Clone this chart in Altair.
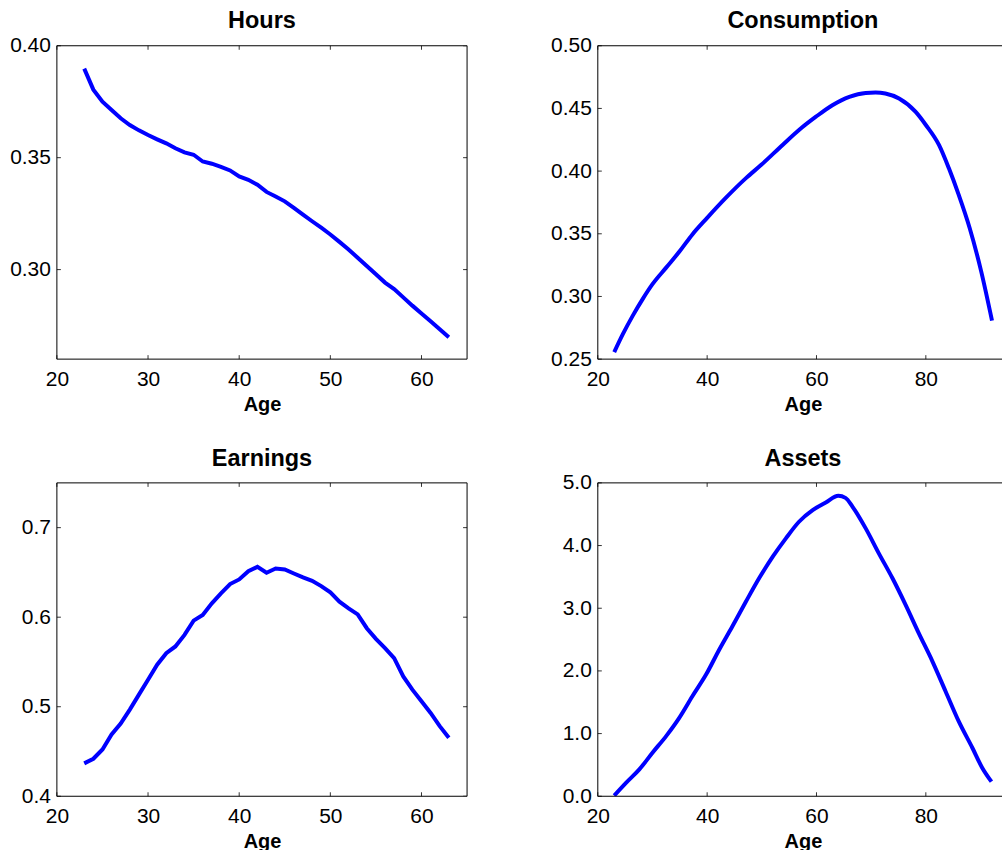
import altair as alt
import pandas as pd

FONT = "Liberation Sans"

# ---------------- data ----------------
hours_age = list(range(23, 64))
hours_val = [0.3898, 0.3804, 0.3750, 0.3713, 0.3676, 0.3646, 0.3622, 0.3601, 0.3582, 0.3564,
             0.3542, 0.3524, 0.3513, 0.3483, 0.3473, 0.3459, 0.3443, 0.3416, 0.3401, 0.3379,
             0.3347, 0.3327, 0.3305, 0.3276, 0.3246, 0.3216, 0.3187, 0.3157, 0.3124, 0.3090,
             0.3053, 0.3016, 0.2979, 0.2942, 0.2913, 0.2876, 0.2839, 0.2804, 0.2769, 0.2733,
             0.2698]

earn_age = list(range(23, 64))
earn_val = [0.4367, 0.4419, 0.4523, 0.4690, 0.4812, 0.4968, 0.5135, 0.5302, 0.5469, 0.5598,
            0.5673, 0.5802, 0.5962, 0.6025, 0.6155, 0.6266, 0.6370, 0.6422, 0.6514, 0.6562,
            0.6496, 0.6544, 0.6533, 0.6488, 0.6444, 0.6407, 0.6347, 0.6277, 0.6173, 0.6099,
            0.6032, 0.5877, 0.5758, 0.5654, 0.5543, 0.5339, 0.5191, 0.5061, 0.4931, 0.4783,
            0.4653]

cons_age = [23.0, 24.6, 26.4, 28.2, 30.0, 32.5, 35.0, 37.3, 40.0, 43.4, 47.1, 49.9, 53.8,
            56.8, 59.9, 62.9, 66.0, 69.0, 70.8, 72.6, 75.1, 78.1, 80.0, 82.4, 84.2, 86.0,
            88.0, 90.1, 92.1]
cons_val = [0.2556, 0.2701, 0.2847, 0.2979, 0.3098, 0.3230, 0.3362, 0.3495, 0.3627, 0.3786,
            0.3944, 0.4050, 0.4209, 0.4328, 0.4434, 0.4526, 0.4593, 0.4624, 0.4627, 0.4619,
            0.4579, 0.4474, 0.4368, 0.4209, 0.4024, 0.3812, 0.3548, 0.3204, 0.2807]

asset_age = [23.0, 25.2, 27.6, 30.0, 32.5, 34.9, 37.3, 39.8, 42.2, 44.6, 47.1, 49.5, 52.0,
             54.4, 56.8, 59.3, 61.7, 64.0, 65.3, 66.6, 69.0, 71.4, 73.9, 76.3, 78.7, 81.2,
             83.6, 86.0, 88.5, 90.3, 92.0]
asset_val = [0.01, 0.217, 0.429, 0.695, 0.960, 1.251, 1.596, 1.941, 2.338, 2.709, 3.107,
             3.478, 3.823, 4.115, 4.380, 4.565, 4.687, 4.793, 4.761, 4.618, 4.274, 3.876,
             3.478, 3.054, 2.603, 2.153, 1.676, 1.198, 0.774, 0.456, 0.233]

xticks_work = [20, 30, 40, 50, 60]
xticks_life = [20, 40, 60, 80]
yticks_hours = [0.30, 0.35, 0.40]
yticks_cons = [0.25, 0.30, 0.35, 0.40, 0.45, 0.50]
yticks_earn = [0.4, 0.5, 0.6, 0.7]
yticks_asset = [0.0, 1.0, 2.0, 3.0, 4.0, 5.0]

W_LEFT = 411
W_RIGHT = 405
H = 314
TICK = 4


def panel(ages, vals, title, xdom, xticks, ydom, yticks, yfmt, W, center, right_border, interp):
    df = pd.DataFrame({"age": ages, "value": vals})
    xs = alt.Scale(domain=xdom, nice=False, zero=False)
    ys = alt.Scale(domain=ydom, nice=False, zero=False)
    one = pd.DataFrame({"k": [0]})

    line = alt.Chart(df).mark_line(color="#0000ff", strokeWidth=4, clip=True,
                                   interpolate=interp).encode(
        x=alt.X("age:Q", scale=xs,
                axis=alt.Axis(values=xticks, format="d", title="Age", labelFlush=False,
                              labelPadding=9.5, titleY=51, titleBaseline="alphabetic",
                              titleX=center, titleAlign="center")),
        y=alt.Y("value:Q", scale=ys,
                axis=alt.Axis(values=yticks, format=yfmt, title=None, labelFlush=False,
                              labelPadding=6.5, minExtent=50, maxExtent=50)),
    )
    xt = pd.DataFrame({"age": xticks})
    yt = pd.DataFrame({"value": yticks})
    rule = dict(color="#333333", strokeWidth=1)
    bot_t = alt.Chart(xt).mark_rule(**rule).encode(
        x=alt.X("age:Q", scale=xs), y=alt.value(H), y2=alt.value(H - TICK))
    top_t = alt.Chart(xt).mark_rule(**rule).encode(
        x=alt.X("age:Q", scale=xs), y=alt.value(0), y2=alt.value(TICK))
    left_t = alt.Chart(yt).mark_rule(**rule).encode(
        y=alt.Y("value:Q", scale=ys), x=alt.value(0), x2=alt.value(TICK))
    frame = dict(color="black", strokeWidth=1)
    f_bot = alt.Chart(one).mark_rule(**frame).encode(
        x=alt.value(0), x2=alt.value(W), y=alt.value(H))
    f_top = alt.Chart(one).mark_rule(**frame).encode(
        x=alt.value(0), x2=alt.value(W), y=alt.value(0))
    f_left = alt.Chart(one).mark_rule(**frame).encode(
        x=alt.value(0), y=alt.value(0), y2=alt.value(H))
    ttl = alt.Chart(one).mark_text(text=title, font=FONT, fontSize=23.5, fontWeight="bold",
                                   baseline="alphabetic", align="center", color="black").encode(
        x=alt.value(center), y=alt.value(-17.3))
    layers = [line, bot_t, top_t, left_t, f_bot, f_top, f_left, ttl]
    if right_border:
        right_t = alt.Chart(yt).mark_rule(**rule).encode(
            y=alt.Y("value:Q", scale=ys), x=alt.value(W), x2=alt.value(W - TICK))
        f_right = alt.Chart(one).mark_rule(**frame).encode(
            x=alt.value(W), y=alt.value(0), y2=alt.value(H))
        layers += [right_t, f_right]
    return alt.layer(*layers).properties(width=W, height=H)


tl = panel(hours_age, hours_val, "Hours", [20, 65], xticks_work, [0.26, 0.40],
           yticks_hours, ".2f", W_LEFT, W_LEFT / 2, True, "linear")
tr = panel(cons_age, cons_val, "Consumption", [20, 93.93], xticks_life, [0.25, 0.50],
           yticks_cons, ".2f", W_RIGHT, 205.5, False, "monotone")
bl = panel(earn_age, earn_val, "Earnings", [20, 65], xticks_work, [0.4, 0.75],
           yticks_earn, ".1f", W_LEFT, W_LEFT / 2, True, "linear")
br = panel(asset_age, asset_val, "Assets", [20, 93.93], xticks_life, [0.0, 5.0],
           yticks_asset, ".1f", W_RIGHT, 205.5, False, "monotone")

chart = alt.concat(tl, tr, bl, br, columns=2, spacing={"row": 32, "column": 80}).properties(
    padding={"left": 7, "top": 8, "right": 0, "bottom": 0},
    background="white",
).configure_view(stroke=None).configure_axis(
    grid=False, ticks=False, domain=False,
    labelFont=FONT, labelFontSize=21, labelColor="black",
    titleFont=FONT, titleFontSize=20, titleFontWeight="bold", titleColor="black",
)

chart.save("out.html", embed_options={"renderer": "svg", "actions": False})
